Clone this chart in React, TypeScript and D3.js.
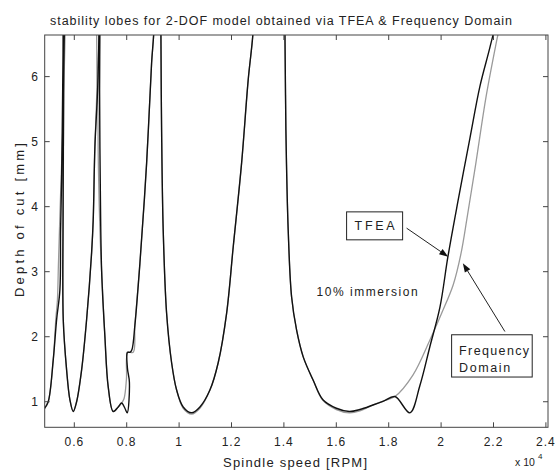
import React from 'react';
import * as d3 from 'd3';

const xTicks = [6000, 8000, 10000, 12000, 14000, 16000, 18000, 20000, 22000, 24000];
const xTickLabels = ['0.6', '0.8', '1', '1.2', '1.4', '1.6', '1.8', '2', '2.2', '2.4'];
const yTicks = [1, 2, 3, 4, 5, 6];
const yTickLabels = ['1', '2', '3', '4', '5', '6'];

// TFEA (black)
const tfeaRpm = [
  4866, 5004, 5195, 5324, 5450, 5477, 5515, 5553, 5576, 5590,
  5605, 5595, 5580, 5570, 5578, 5706, 5832, 5958, 6088, 6279, 6469, 6660, 6721, 6786, 6890, 6940, 6955,
  6975, 6975, 6965, 6990, 7042, 7168, 7294, 7485, 7676, 7805, 7931, 8019, 8103, 8027, 8027, 8122, 8198, 8313, 8504, 8760, 8950, 9038, 9060,
  9300, 9305, 9332, 9393, 9523, 9714, 9905, 10156, 10477, 10794, 11176, 11492, 11813, 12065, 12385, 12637, 12828, 12860,
  13975, 14038, 14076, 14164, 14294, 14485, 14737, 15118, 15490, 16000, 16500, 16900, 17400, 17800, 18237, 18809, 19191, 19573, 19954, 20260, 20642, 21099, 21481, 21863, 22092, 22245,
];
const tfeaDepth = [
  0.90, 1.00, 1.64, 2.26, 2.72, 3.64, 4.41, 5.69, 6.62, 7.5,
  7.5, 6.0, 4.8, 3.8, 2.26, 1.49, 1.03, 0.85, 1.00, 1.49, 2.26, 3.29, 3.79, 4.92, 5.8, 6.64, 7.5,
  7.5, 6.6, 5.8, 4.4, 3.02, 2.00, 1.23, 0.85, 0.92, 0.98, 0.90, 0.83, 1.30, 1.52, 1.76, 1.76, 1.80, 2.18, 3.13, 4.67, 6.21, 6.72, 7.5,
  7.5, 6.72, 5.18, 3.64, 2.36, 1.60, 1.18, 0.92, 0.83, 0.92, 1.18, 1.60, 2.36, 3.38, 4.67, 5.95, 6.72, 7.5,
  7.5, 6.72, 5.18, 3.64, 2.61, 2.10, 1.69, 1.33, 1.03, 0.90, 0.85, 0.88, 0.95, 1.01, 1.08, 0.83, 1.25, 1.85, 2.45, 3.23, 4.08, 5.05, 5.85, 6.45, 6.85, 7.5,
];

// Frequency Domain (gray)
const fdRpm = [
  4866, 5004, 5195, 5298, 5355, 5393, 5469, 5565, 5622, 5649, 5660,
  5615, 5600, 5585, 5575, 5580, 5706, 5832, 5958, 6088, 6279, 6469, 6660, 6721, 6786, 6860, 6900,
  6930, 6900, 6920, 6990, 7042, 7168, 7294, 7485, 7676, 7805, 7900, 7990, 8045, 8248, 8313, 8504, 8760, 8950, 9038, 9060,
  9300, 9305, 9332, 9393, 9523, 9714, 9905, 10156, 10477, 10794, 11176, 11492, 11813, 12065, 12385, 12637, 12828, 12860,
  13975, 14038, 14076, 14164, 14294, 14485, 14737, 15118, 15490, 16000, 16500, 16900, 17400, 17800, 18237, 18924, 19573, 20020, 20463, 20760, 21000, 21300, 21720, 22119, 22245, 22398,
];
const fdDepth = [
  0.90, 1.00, 1.64, 2.29, 2.56, 3.10, 4.10, 5.26, 6.18, 6.72, 7.5,
  7.5, 6.0, 4.8, 3.8, 2.26, 1.49, 1.03, 0.85, 1.00, 1.49, 2.26, 3.29, 3.79, 4.92, 5.8, 7.5,
  7.5, 5.8, 4.6, 3.5, 3.02, 2.00, 1.23, 0.85, 0.92, 0.98, 1.05, 1.35, 1.76, 1.76, 2.18, 3.13, 4.67, 6.21, 6.72, 7.5,
  7.5, 6.72, 5.18, 3.64, 2.36, 1.60, 1.18, 0.90, 0.81, 0.90, 1.18, 1.60, 2.36, 3.38, 4.67, 5.95, 6.72, 7.5,
  7.5, 6.72, 5.18, 3.64, 2.61, 2.10, 1.69, 1.33, 1.02, 0.88, 0.83, 0.86, 0.95, 1.01, 1.08, 1.41, 1.95, 2.36, 2.80, 3.28, 3.85, 4.60, 5.70, 6.55, 6.80, 7.5,
];

const W = 555;
const H = 470;
const FONT = "'Liberation Sans', Arial, Helvetica, sans-serif";

export default function App() {
  const x = d3.scaleLinear().domain([4870, 24080]).range([44.7, 548]);
  const y = d3.scaleLinear().domain([0.607, 6.64]).range([427.3, 35]);
  const [x0, x1] = x.range();
  const [y0, y1] = y.range();
  const mk = (rpm: number[], dep: number[]) =>
    d3
      .line<[number, number]>()
      .x(d => x(d[0]))
      .y(d => y(d[1]))
      .curve(d3.curveCatmullRom.alpha(0.5))(rpm.map((r, i) => [r, dep[i]] as [number, number])) || '';
  const tfeaPath = mk(tfeaRpm, tfeaDepth);
  const fdPath = mk(fdRpm, fdDepth);
  const tick = 5;
  const axisColor = '#444';

  // annotation anchors in data coordinates
  const tfeaBox = { r0: 16393, r1: 18531, d0: 3.92, d1: 3.49 };
  const tfeaArrow = { from: [18683, 3.67], to: [20271, 3.23] };
  const fdBox = { r0: 20401, r1: 23477, d0: 2.03, d1: 1.38 };
  const fdArrow = { from: [22435, 2.08], to: [20830, 3.13] };

  const arrow = (from: number[], to: number[]) => {
    const xa = x(from[0]), ya = y(from[1]), xb = x(to[0]), yb = y(to[1]);
    const ang = Math.atan2(yb - ya, xb - xa);
    const L = 9, Wd = 3.2;
    const bx = xb - L * Math.cos(ang), by = yb - L * Math.sin(ang);
    const px = -Math.sin(ang) * Wd, py = Math.cos(ang) * Wd;
    return (
      <g>
        <line x1={xa} y1={ya} x2={bx} y2={by} stroke="#222" strokeWidth={1} />
        <polygon points={`${xb},${yb} ${bx + px},${by + py} ${bx - px},${by - py}`} fill="#111" />
      </g>
    );
  };

  return (
    <svg width={W} height={H} style={{ position: 'absolute', left: 0, top: 0, background: '#fff' }} fontFamily={FONT}>
      <defs>
        <clipPath id="plotclip">
          <rect x={x0} y={y1} width={x1 - x0} height={y0 - y1} />
        </clipPath>
      </defs>
      <rect x={0} y={0} width={W} height={H} fill="#fff" />
      <text x={281} y={25} textAnchor="middle" fontSize={12.5} fill="#222" textLength={462} lengthAdjust="spacing">
        stability lobes for 2-DOF model obtained via TFEA &amp; Frequency Domain
      </text>
      <g clipPath="url(#plotclip)">
        <path d={fdPath} fill="none" stroke="#9a9a9a" strokeWidth={1.3} />
        <path d={tfeaPath} fill="none" stroke="#111" strokeWidth={1.4} />
      </g>
      {/* frame */}
      <rect x={x0} y={y1} width={x1 - x0} height={y0 - y1} fill="none" stroke={axisColor} strokeWidth={1} />
      {xTicks.map((t, i) => (
        <g key={'xt' + i}>
          <line x1={x(t)} x2={x(t)} y1={y0} y2={y0 - tick} stroke={axisColor} />
          <line x1={x(t)} x2={x(t)} y1={y1} y2={y1 + tick} stroke={axisColor} />
          <text x={x(t)} y={446} textAnchor="middle" fontSize={12} fill="#222" letterSpacing={1}>
            {xTickLabels[i]}
          </text>
        </g>
      ))}
      {yTicks.map((t, i) => (
        <g key={'yt' + i}>
          <line x1={x0} x2={x0 + tick} y1={y(t)} y2={y(t)} stroke={axisColor} />
          <line x1={x1} x2={x1 - tick} y1={y(t)} y2={y(t)} stroke={axisColor} />
          <text x={38} y={y(t) + 4.5} textAnchor="end" fontSize={12} fill="#222">
            {yTickLabels[i]}
          </text>
        </g>
      ))}
      <text x={295} y={467} textAnchor="middle" fontSize={13} fill="#222" textLength={144} lengthAdjust="spacing">
        Spindle speed [RPM]
      </text>
      <text x={515} y={466} fontSize={10.5} fill="#222">
        x 10
      </text>
      <text x={538} y={459} fontSize={8} fill="#222">4</text>
      <text transform={`translate(24,220) rotate(-90)`} textAnchor="middle" fontSize={13} fill="#222" textLength={154} lengthAdjust="spacing">
        Depth of cut [mm]
      </text>

      {/* annotations */}
      <rect x={x(tfeaBox.r0)} y={y(tfeaBox.d0)} width={x(tfeaBox.r1) - x(tfeaBox.r0)} height={y(tfeaBox.d1) - y(tfeaBox.d0)} fill="#fff" stroke="#222" strokeWidth={1} />
      <text x={(x(tfeaBox.r0) + x(tfeaBox.r1)) / 2} y={(y(tfeaBox.d0) + y(tfeaBox.d1)) / 2 + 4.5} textAnchor="middle" fontSize={12.5} fill="#222" textLength={40} lengthAdjust="spacing">
        TFEA
      </text>
      {arrow(tfeaArrow.from, tfeaArrow.to)}
      <text x={x(15248)} y={y(2.63)} fontSize={12} fill="#222" textLength={101} lengthAdjust="spacing">
        10% immersion
      </text>
      <rect x={x(fdBox.r0)} y={y(fdBox.d0)} width={x(fdBox.r1) - x(fdBox.r0)} height={y(fdBox.d1) - y(fdBox.d0)} fill="#fff" stroke="#222" strokeWidth={1} />
      <text x={x(fdBox.r0) + 7.5} y={y(fdBox.d0) + 20} fontSize={12.5} fill="#222" textLength={70} lengthAdjust="spacing">
        Frequency
      </text>
      <text x={x(fdBox.r0) + 7.5} y={y(fdBox.d0) + 37.5} fontSize={12.5} fill="#222" textLength={51} lengthAdjust="spacing">
        Domain
      </text>
      {arrow(fdArrow.from, fdArrow.to)}
    </svg>
  );
}
